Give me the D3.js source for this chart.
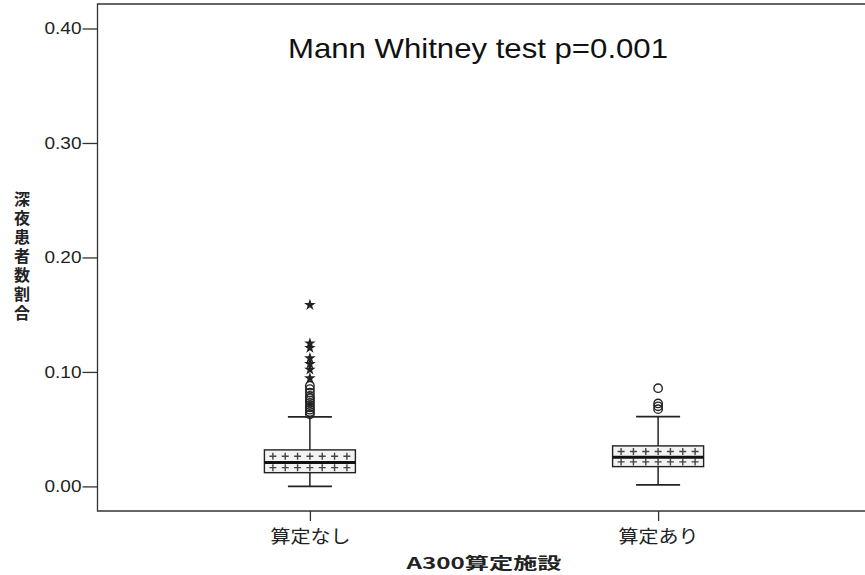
<!DOCTYPE html>
<html><head><meta charset="utf-8">
<script src="https://cdn.jsdelivr.net/npm/d3@7"></script>
<style>body{margin:0;background:#fff}svg{display:block}</style>
</head><body><div id="chart"></div>
<script>
const categories = ["算定なし", "算定あり"];
const whiskerLow  = [0.000, 0.0013];
const q1          = [0.0120, 0.0173];
const median      = [0.0208, 0.0255];
const q3          = [0.0319, 0.0354];
const whiskerHigh = [0.0607, 0.0610];
const outliers = [
  [0.063, 0.065, 0.067, 0.069, 0.071, 0.073, 0.075, 0.077, 0.079, 0.082, 0.085, 0.088],
  [0.0675, 0.0700, 0.0725, 0.0858]
];
const extremes = [
  [0.0945, 0.102, 0.107, 0.112, 0.121, 0.125, 0.1585],
  []
];
const yTicks = [0, 0.1, 0.2, 0.3, 0.4];
const title = "Mann Whitney test p=0.001";
const yTitle = "深夜患者数割合";
const xTitle = "A300算定施設";

const W = 865, H = 575;
const L = 97.5, T = 4, B = 511, R = 870.5;
const svg = d3.select("#chart").append("svg").attr("width", W).attr("height", H);

const y = d3.scaleLinear().domain([-0.02148, 0.42140]).range([B, T]);
const x = d3.scalePoint().domain(categories).range([L, R]).padding(0.61);

const ink = "#222";
const latin = "Liberation Sans, Arial, sans-serif";
const cjk = "Noto Sans CJK JP, sans-serif";
svg.append("path").attr("d", `M${R},${T}H${L}V${B}H${R}`).attr("fill", "none").attr("stroke", "#333").attr("stroke-width", 1.3);

const yAxis = d3.axisLeft(y).tickValues(yTicks).tickFormat(d3.format(".2f")).tickSize(15).tickPadding(1);
const gy = svg.append("g").attr("transform", `translate(${L},0)`).call(yAxis);
gy.select(".domain").remove();
gy.selectAll("line").attr("stroke", "#333").attr("stroke-width", 1.3);
gy.selectAll("text").attr("font-family", latin).attr("font-size", 16).attr("fill", ink)
  .attr("textLength", 37).attr("lengthAdjust", "spacingAndGlyphs");

const xAxis = d3.axisBottom(x).tickSize(10).tickPadding(5);
const gx = svg.append("g").attr("transform", `translate(0,${B})`).call(xAxis);
gx.select(".domain").remove();
gx.selectAll("line").attr("stroke", "#333").attr("stroke-width", 1.3);
gx.selectAll("text").attr("font-family", cjk).attr("font-size", 18).attr("fill", ink)
  .attr("y", 32).attr("dy", null).attr("textLength", 80).attr("lengthAdjust", "spacingAndGlyphs");

svg.append("text").attr("x", (x(categories[0]) + x(categories[1])) / 2).attr("y", 569)
  .attr("text-anchor", "middle").attr("font-family", cjk)
  .attr("font-weight", "bold").attr("font-size", 16).attr("fill", ink)
  .attr("textLength", 155).attr("lengthAdjust", "spacingAndGlyphs").text(xTitle);

svg.append("text").attr("x", 22).attr("y", y(0.2))
  .attr("font-family", cjk).attr("font-weight", "bold").attr("font-size", 16).attr("fill", ink)
  .attr("text-anchor", "middle").attr("letter-spacing", 3)
  .style("writing-mode", "vertical-rl").text(yTitle);

svg.append("text").attr("x", 478).attr("y", 58).attr("text-anchor", "middle")
  .attr("font-family", latin).attr("font-size", 28).attr("fill", "#111")
  .attr("textLength", 380).attr("lengthAdjust", "spacingAndGlyphs").text(title);

const boxW = 91, capW = 44;
categories.forEach((c, i) => {
  const cx = x(c);
  const g = svg.append("g");
  g.append("line").attr("x1", cx).attr("x2", cx).attr("y1", y(whiskerLow[i])).attr("y2", y(whiskerHigh[i])).attr("stroke", ink).attr("stroke-width", 1.5);
  [whiskerLow[i], whiskerHigh[i]].forEach(v => {
    g.append("line").attr("x1", cx - capW / 2).attr("x2", cx + capW / 2).attr("y1", y(v)).attr("y2", y(v)).attr("stroke", ink).attr("stroke-width", 1.8);
  });
  const yt3 = y(q3[i]), yb1 = y(q1[i]), ym = y(median[i]);
  g.append("rect").attr("x", cx - boxW / 2).attr("y", yt3).attr("width", boxW).attr("height", yb1 - yt3)
    .attr("fill", "#f3f3f3").attr("stroke", ink).attr("stroke-width", 1.4);
  const nx = 7;
  const xs = d3.range(nx).map(k => cx - boxW / 2 + 8.5 + k * (boxW - 17) / (nx - 1));
  [(yt3 + ym) / 2, (ym + yb1) / 2].forEach(py => {
    xs.forEach(px => {
      g.append("path").attr("d", `M${px - 3.5},${py}H${px + 3.5}M${px},${py - 3.5}V${py + 3.5}`)
        .attr("stroke", "#444").attr("stroke-width", 1.4);
    });
  });
  g.append("line").attr("x1", cx - boxW / 2).attr("x2", cx + boxW / 2).attr("y1", ym).attr("y2", ym).attr("stroke", "#111").attr("stroke-width", 3);
  g.selectAll("circle.o").data(outliers[i]).enter().append("circle")
    .attr("cx", cx).attr("cy", d => y(d)).attr("r", 4.2)
    .attr("fill", "none").attr("stroke", ink).attr("stroke-width", 1.4);
  g.selectAll("path.s").data(extremes[i]).enter().append("path")
    .attr("transform", d => `translate(${cx},${y(d)})`)
    .attr("d", d3.symbol(d3.symbolStar, 42)).attr("fill", ink);
});
</script></body></html>
